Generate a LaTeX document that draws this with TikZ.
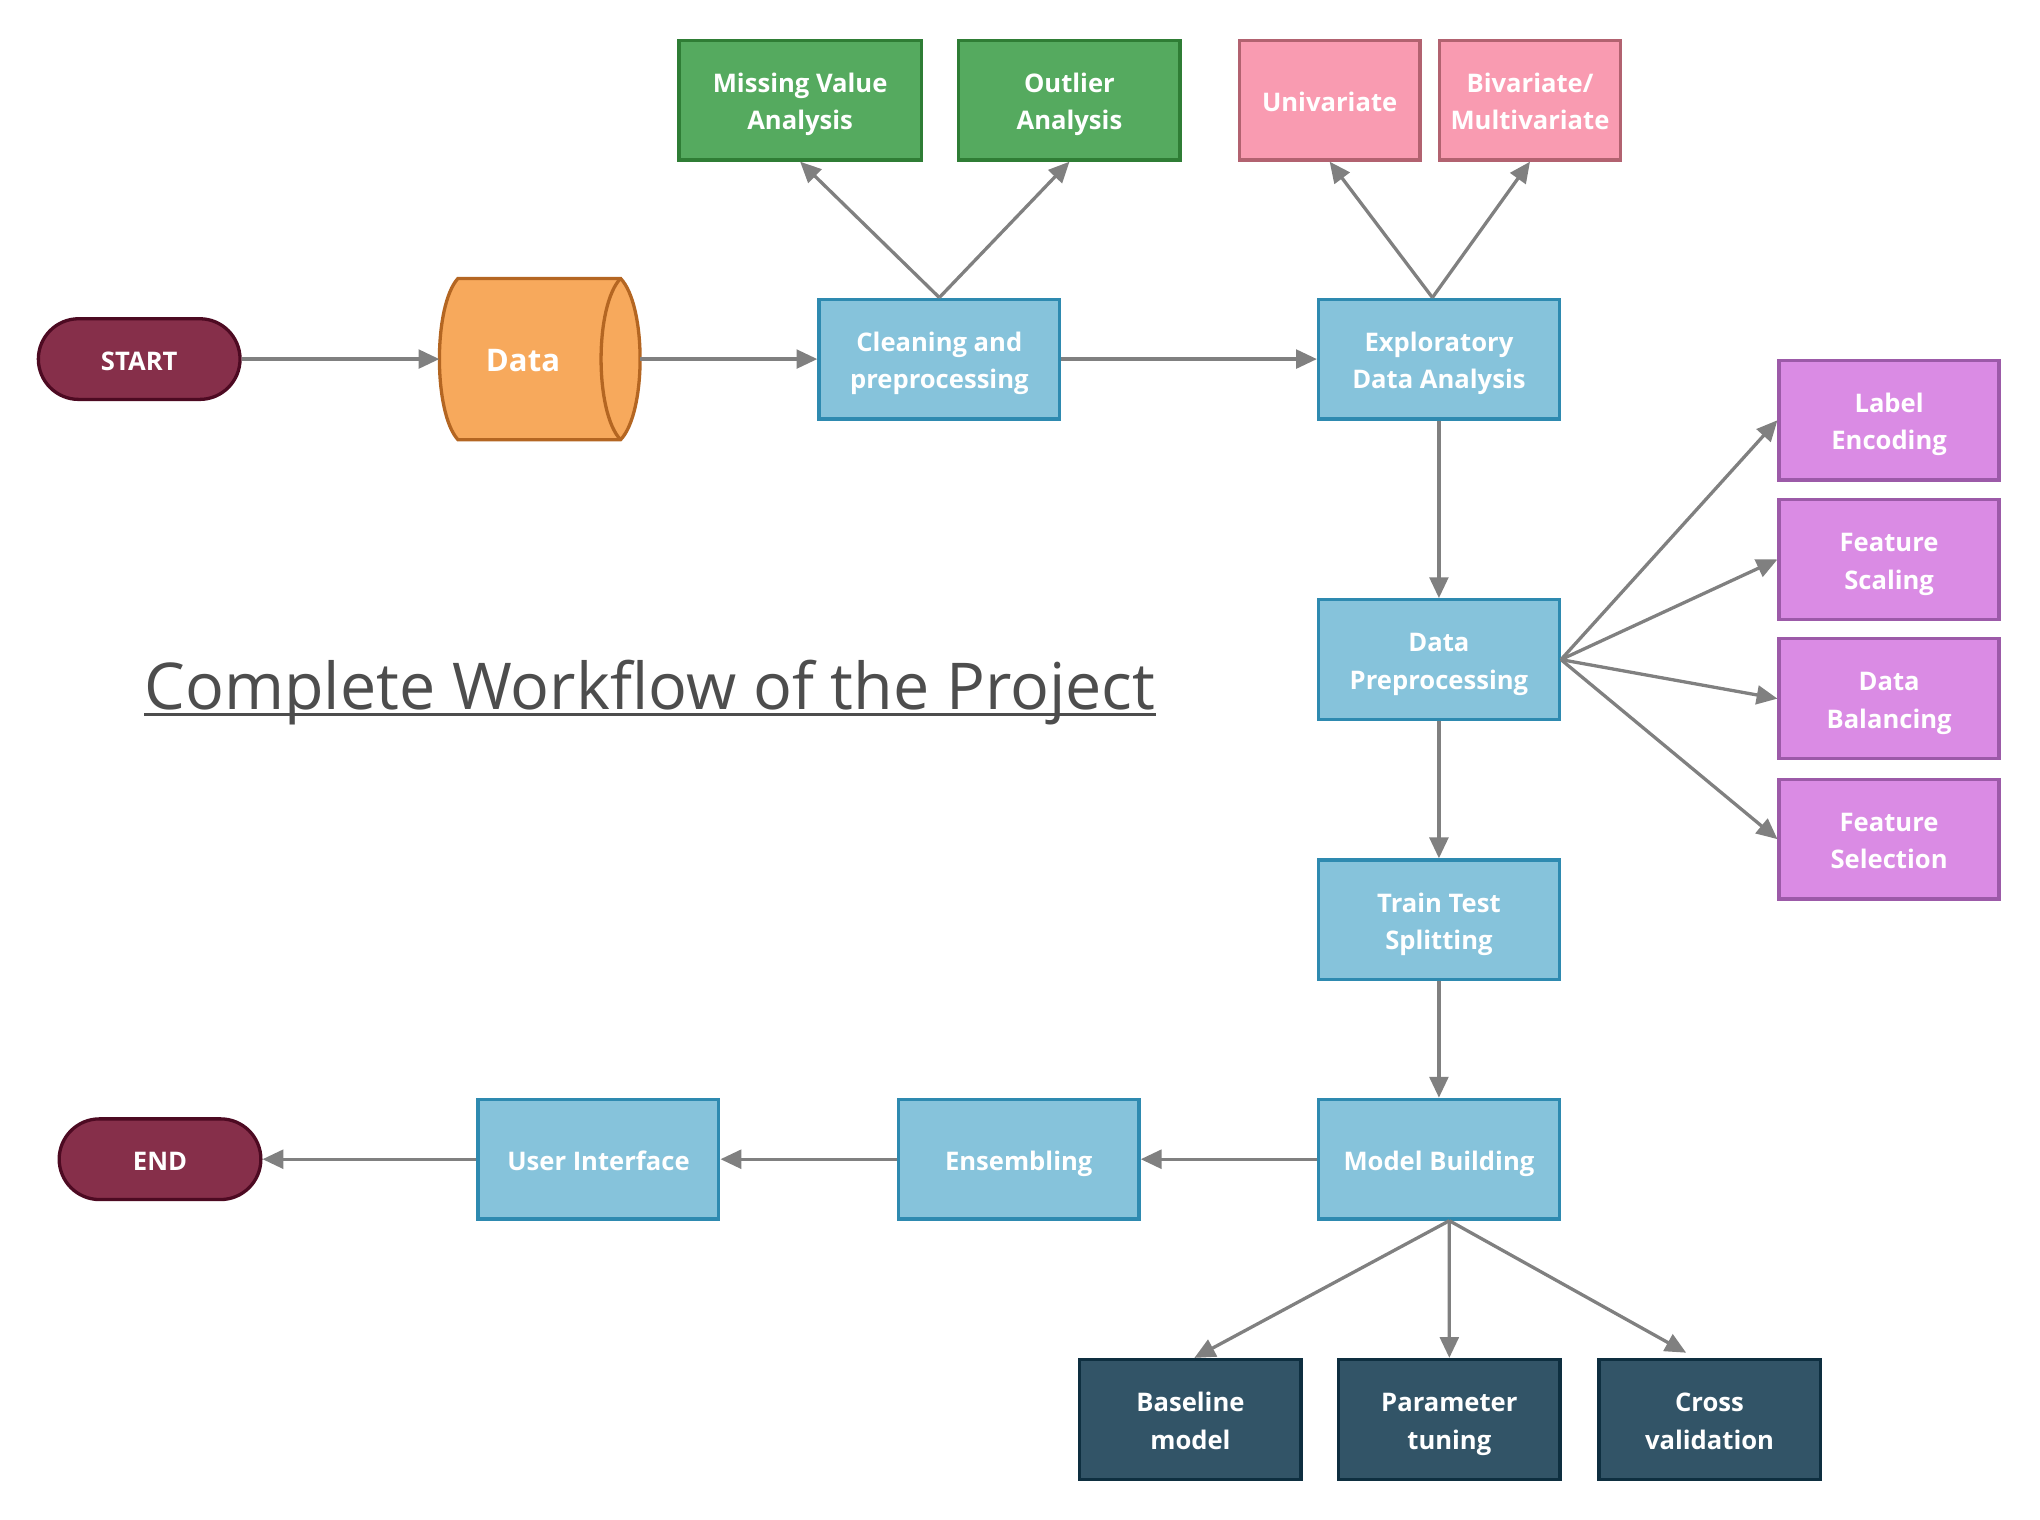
\documentclass[tikz,border=0pt]{standalone}
\usepackage{fontspec}
\setmainfont{Open Sans}
\usetikzlibrary{arrows.meta,positioning,calc}

\definecolor{arrowgray}{HTML}{808080}
\definecolor{titlegray}{HTML}{4D4D4D}
\definecolor{bluefill}{HTML}{86C3DB}
\definecolor{blueline}{HTML}{2E8AB0}
\definecolor{greenfill}{HTML}{55AA5F}
\definecolor{greenline}{HTML}{2F7D35}
\definecolor{pinkfill}{HTML}{F99BB1}
\definecolor{pinkline}{HTML}{B26270}
\definecolor{purplefill}{HTML}{DA8BE4}
\definecolor{purpleline}{HTML}{9C5AA8}
\definecolor{darkfill}{HTML}{325467}
\definecolor{darkline}{HTML}{0E2F40}
\definecolor{maroonfill}{HTML}{862F4A}
\definecolor{maroonline}{HTML}{4D0A22}
\definecolor{orangefill}{HTML}{F7A95C}
\definecolor{orangeline}{HTML}{B46622}

\begin{document}
\begin{tikzpicture}[
    x=0.025cm, y=-0.025cm,
    box_text/.style={text=white,align=center,text height=32.5pt,text depth=0pt,font=\bfseries\fontsize{14}{20.5}\selectfont},
    one_line/.style={text height=12pt},
    step_box/.style={rectangle,box_text,line width=1.8pt,minimum width=4.625cm,minimum height=2.3cm,inner sep=0pt},
    blue_box/.style={step_box,fill=bluefill,draw=blueline},
    green_box/.style={step_box,fill=greenfill,draw=greenline},
    pink_box/.style={step_box,fill=pinkfill,draw=pinkline,minimum width=3.475cm},
    purple_box/.style={step_box,fill=purplefill,draw=purpleline,minimum width=4.225cm},
    dark_box/.style={step_box,fill=darkfill,draw=darkline,minimum width=4.25cm},
    term_box/.style={rectangle,rounded corners=0.775cm,box_text,one_line,line width=1.8pt,fill=maroonfill,draw=maroonline,minimum width=3.875cm,minimum height=1.55cm},
    flow_arrow/.style={draw=arrowgray,line width=1.8pt,-{Triangle[length=0.4cm,width=0.36cm]}}
]
\useasboundingbox (0,0) rectangle (1568,1168);

% Top row
\node[term_box] (start) at (107,276) {START};
\node[minimum width=3.85cm,minimum height=3.1cm,inner sep=0pt] (data) at (415,276) {};
\node[blue_box] (clean) at (722,276) {Cleaning and\\preprocessing};
\node[blue_box] (eda) at (1106,276) {Exploratory\\Data Analysis};

% Data store shape
\draw[fill=orangefill,draw=orangeline,line width=1.8pt]
    (352,214) -- (477,214) .. controls (497,235) and (497,317) .. (477,338)
    -- (352,338) .. controls (333,317) and (333,235) .. (352,214) -- cycle;
\draw[orangeline,line width=1.8pt] (477,214) .. controls (457,235) and (457,317) .. (477,338);
\node[text=white,font=\bfseries\fontsize{17}{20}\selectfont] (datatext) at (402,277) {Data};

% Cleaning and EDA branches
\node[green_box,minimum width=4.65cm] (missing) at (615,77) {Missing Value\\Analysis};
\node[green_box,minimum width=4.25cm] (outlier) at (822,77) {Outlier\\Analysis};
\node[pink_box,one_line] (uni) at (1022,77) {Univariate};
\node[pink_box] (multi) at (1176,77) {Bivariate/\\Multivariate};

% Main column
\node[blue_box] (prep) at (1106,507) {Data\\Preprocessing};
\node[blue_box] (split) at (1106,707) {Train Test\\Splitting};
\node[blue_box,one_line] (model) at (1106,891) {Model Building};
\node[blue_box,one_line] (ensemble) at (783,891) {Ensembling};
\node[blue_box,one_line] (ui) at (460,891) {User Interface};
\node[term_box] (end) at (123,891) {END};

% Preprocessing steps
\node[purple_box] (label) at (1452,323) {Label\\Encoding};
\node[purple_box] (scaling) at (1452,430) {Feature\\Scaling};
\node[purple_box] (balance) at (1452,537) {Data\\Balancing};
\node[purple_box] (select) at (1452,645) {Feature\\Selection};

% Model steps
\node[dark_box] (baseline) at (915,1091) {Baseline\\model};
\node[dark_box] (tuning) at (1114,1091) {Parameter\\tuning};
\node[dark_box] (cross) at (1314,1091) {Cross\\validation};

% Title
\node[anchor=base,inner sep=0pt,text=titlegray,font=\fontsize{35.3}{40}\selectfont] (title) at (499.5,545) {Complete Workflow of the Project};
\draw[titlegray,line width=1.4pt] ([yshift=-0.1cm]title.base west) -- ([yshift=-0.1cm]title.base east);

% Connectors
\draw[flow_arrow] (start.east) -- (data.west);
\draw[flow_arrow] (data.east) -- (clean.west);
\draw[flow_arrow] (clean.east) -- (eda.west);
\foreach \t in {missing,outlier}
    \draw[flow_arrow] (clean.north) -- (\t.south);
\foreach \t in {uni,multi}
    \draw[flow_arrow] ([xshift=-0.125cm]eda.north) -- (\t.south);
\draw[flow_arrow] (eda.south) -- (prep.north);
\foreach \t in {label,scaling,balance,select}
    \draw[flow_arrow] (prep.east) -- (\t.west);
\draw[flow_arrow] (prep.south) -- (split.north);
\draw[flow_arrow] (split.south) -- (model.north);
\draw[flow_arrow] (model.west) -- (ensemble.east);
\draw[flow_arrow] (ensemble.west) -- (ui.east);
\draw[flow_arrow] (ui.west) -- (end.east);
\draw[flow_arrow] ([xshift=0.2cm]model.south) -- ([xshift=0.075cm]baseline.north);
\draw[flow_arrow] ([xshift=0.2cm]model.south) -- (tuning.north);
\draw[flow_arrow] ([xshift=0.2cm]model.south) -- ([xshift=-0.45cm,yshift=0.1cm]cross.north);

\end{tikzpicture}
\end{document}
